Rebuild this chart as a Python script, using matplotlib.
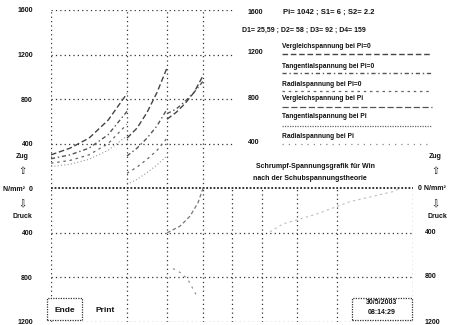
import matplotlib
matplotlib.use("Agg")
import matplotlib.pyplot as plt
from matplotlib.patches import Rectangle

# ---------------- data ----------------
y_ticks = [1600, 1200, 800, 400, 0, -400, -800, -1200]
y_tick_labels = ["1600", "1200", "800", "400", "N/mm²  0", "400", "800", "1200"]
upper_vlines = [0, 76, 116, 152]
lower_vlines = [0, 76, 116, 152, 181, 211, 246, 286, 362]

# ring 1
r1_x = [0, 19, 38, 57, 76]
r1_verg = [300, 360, 450, 610, 850]
r1_tang = [265, 300, 360, 480, 690]
r1_rad = [225, 250, 300, 400, 575]
r1_faint = [195, 215, 260, 340, 470]
# ring 2
r2_x = [76, 86, 96, 106, 116]
r2_verg = [450, 540, 680, 860, 1080]
r2_tang = [290, 360, 450, 560, 710]
r2_rad = [135, 190, 260, 340, 450]
r2_faint = [35, 80, 140, 210, 290]
# ring 3
r3_x = [116, 125, 134, 143, 152]
r3_verg = [620, 680, 760, 860, 1010]
r3_tang = [670, 710, 780, 860, 960]
# compressive side
rad3_x = [116, 129, 139, 147, 152]
rad3_y = [-400, -340, -250, -130, 0]
low_x = [122, 130, 137, 146]
low_y = [-720, -760, -820, -970]
right_x = [219, 232, 266, 299, 342, 349]
right_y = [-390, -320, -230, -120, -30, 0]

legend_labels = ["Vergleichspannung bei Pi=0", "Tangentialspannung bei Pi=0",
                 "Radialspannung bei Pi=0", "Vergleichspannung bei Pi",
                 "Tangentialspannung bei Pi", "Radialspannung bei Pi"]
info1 = "Pi= 1042 ; S1= 6 ; S2= 2.2"
info2 = "D1= 25,59 ; D2= 58 ; D3= 92 ; D4= 159"
title1 = "Schrumpf-Spannungsgrafik für Win"
title2 = "nach der Schubspannungstheorie"
date1, date2 = "30/5/2003", "08:14:29"

# ---------------- figure ----------------
W, H = 451, 325
fig = plt.figure(figsize=(W / 100, H / 100), dpi=100)
fig.patch.set_facecolor("white")
L, R, T, B = 51, 413, 10, 322
ax = fig.add_axes([L / W, 1 - B / H, (R - L) / W, (B - T) / H])
ax.set_xlim(0, 362)
ax.set_ylim(-1200, 1600)
for s in ax.spines.values():
    s.set_visible(False)
ax.set_xticks([])
ax.set_yticks(y_ticks)
ax.set_yticklabels(y_tick_labels, fontsize=5, fontweight="bold",
                   family="Liberation Sans", color="#111111")
ax.tick_params(axis="y", length=0, pad=13)

FONT = dict(family="Liberation Sans", fontweight="bold", color="#111111")
grid_kw = dict(color="#333333", lw=0.9, ls=(0, (1, 2.5)))

# horizontal grid
for v in [1600, 1200, 800, 400]:
    ax.plot([0, 183], [v, v], **grid_kw)
for v in [-400, -800, -1200]:
    ax.plot([0, 362], [v, v], **grid_kw)
ax.plot([0, 362], [0, 0], color="#222222", lw=1.3, ls=(0, (1, 1)))
# vertical grid
for xv in upper_vlines:
    ax.plot([xv, xv], [0, 1600], **grid_kw)
for xv in lower_vlines:
    ax.plot([xv, xv], [-1200, 0], **grid_kw)

# curve styles
st_verg = dict(color="#444444", lw=1.0, ls=(0, (4, 2)))
st_tang = dict(color="#555555", lw=1.0, ls=(0, (3, 2, 1, 2)))
st_rad = dict(color="#666666", lw=0.9, ls=(0, (2, 3)))
st_faint = dict(color="#999999", lw=0.8, ls=(0, (1, 2)))

ax.plot(r1_x, r1_verg, **st_verg)
ax.plot(r1_x, r1_tang, **st_tang)
ax.plot(r1_x, r1_rad, **st_rad)
ax.plot(r1_x, r1_faint, **st_faint)
ax.plot(r2_x, r2_verg, **st_verg)
ax.plot(r2_x, r2_tang, **st_tang)
ax.plot(r2_x, r2_rad, **st_rad)
ax.plot(r2_x, r2_faint, **st_faint)
ax.plot(r3_x, r3_verg, **st_verg)
ax.plot(r3_x, r3_tang, **st_tang)
ax.plot(rad3_x, rad3_y, color="#777777", lw=0.9, ls=(0, (3, 2)))
ax.plot(low_x, low_y, color="#888888", lw=0.8, ls=(0, (2, 4)))
ax.plot(right_x, right_y, color="#bbbbbb", lw=0.8, ls=(0, (2, 3)))


def ft(px, py, s, size=5, ha="left", va="center", **kw):
    d = dict(FONT)
    d.update(kw)
    fig.text(px / W, 1 - py / H, s, fontsize=size, ha=ha, va=va, **d)


# middle labels (upper part)
for lab, py in zip(["1600", "1200", "800", "400"], [12, 53, 99, 143]):
    ft(248, py, lab)
# left annotations
ft(22, 157, "Zug", ha="center")
ft(22, 171, "⇧", size=7, ha="center", family="DejaVu Sans", fontweight="normal")
ft(22, 204, "⇩", size=7, ha="center", family="DejaVu Sans", fontweight="normal")
ft(22, 217, "Druck", ha="center")
# right annotations
ft(435, 157, "Zug", ha="center")
ft(435, 171, "⇧", size=7, ha="center", family="DejaVu Sans", fontweight="normal")
ft(418, 188, "0 N/mm²", ha="left")
ft(435, 204, "⇩", size=7, ha="center", family="DejaVu Sans", fontweight="normal")
ft(437, 217, "Druck", ha="center")
for lab, py in zip(["400", "800", "1200"], [233, 277, 322]):
    ft(425, py, lab)

# info texts
ft(283, 12, info1, size=5.5)
ft(242, 30, info2, size=5)

# legend
leg_styles = [st_verg, st_tang, st_rad,
              dict(color="#555555", lw=0.9, ls=(0, (5, 2))),
              dict(color="#666666", lw=0.9, ls=(0, (1, 1))),
              dict(color="#888888", lw=0.9, ls=(0, (1, 4)))]
leg_text_y = [47, 66, 84, 99, 117, 136]
leg_line_y = [54, 73, 91, 107, 126, 144]
for lab, ty, ly, st in zip(legend_labels, leg_text_y, leg_line_y, leg_styles):
    ft(282, ty, lab, size=4.8)
    fig.add_artist(plt.Line2D([282 / W, 432 / W], [1 - ly / H, 1 - ly / H],
                              transform=fig.transFigure, **st))

# title
ft(315, 167, title1, size=5, ha="center")
ft(310, 178, title2, size=5, ha="center")

# buttons
fig.add_artist(Rectangle((47 / W, 1 - 320 / H), 35 / W, 22 / H,
                         transform=fig.transFigure, fill=True, fc="white",
                         ec="#333333", lw=0.9, ls=(0, (1, 1))))
ft(65, 310, "Ende", size=6, ha="center")
ft(105, 310, "Print", size=6, ha="center")
# date box
fig.add_artist(Rectangle((352 / W, 1 - 320 / H), 60 / W, 22 / H,
                         transform=fig.transFigure, fill=True, fc="white",
                         ec="#333333", lw=0.9, ls=(0, (1, 1))))
ft(382, 303, date1, ha="center")
ft(382, 313, date2, ha="center")

fig.savefig("out.png", dpi=100, facecolor="white")
